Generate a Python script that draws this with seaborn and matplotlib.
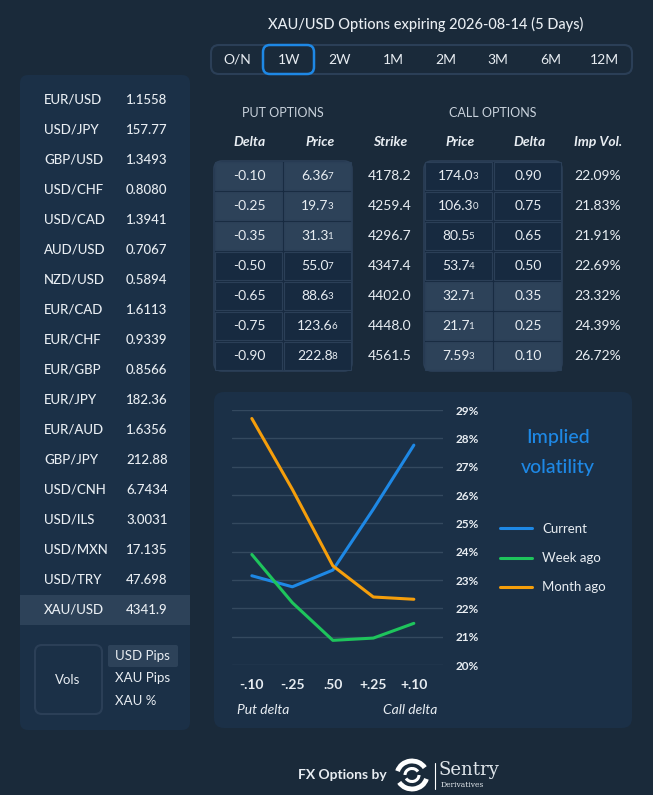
import matplotlib.pyplot as plt
import seaborn as sns
import pandas as pd
from matplotlib.patches import FancyBboxPatch, Rectangle, Arc

# spot rates in left panel
pairs = ["EUR/USD", "USD/JPY", "GBP/USD", "USD/CHF", "USD/CAD", "AUD/USD", "NZD/USD",
         "EUR/CAD", "EUR/CHF", "EUR/GBP", "EUR/JPY", "EUR/AUD", "GBP/JPY", "USD/CNH",
         "USD/ILS", "USD/MXN", "USD/TRY", "XAU/USD"]
spots = ["1.1558", "157.77", "1.3493", "0.8080", "1.3941", "0.7067", "0.5894",
         "1.6113", "0.9339", "0.8566", "182.36", "1.6356", "212.88", "6.7434",
         "3.0031", "17.135", "47.698", "4341.9"]
units = ["USD Pips", "XAU Pips", "XAU %"]
tenors = ["O/N", "1W", "2W", "1M", "2M", "3M", "6M", "12M"]

# options table
put_delta = ["-0.10", "-0.25", "-0.35", "-0.50", "-0.65", "-0.75", "-0.90"]
put_price = ["6.367", "19.73", "31.31", "55.07", "88.63", "123.66", "222.88"]
strikes = ["4178.2", "4259.4", "4296.7", "4347.4", "4402.0", "4448.0", "4561.5"]
call_price = ["174.03", "106.30", "80.55", "53.74", "32.71", "21.71", "7.593"]
call_delta = ["0.90", "0.75", "0.65", "0.50", "0.35", "0.25", "0.10"]
imp_vol = ["22.09%", "21.83%", "21.91%", "22.69%", "23.32%", "24.39%", "26.72%"]

# smile chart
delta_labels = ["-.10", "-.25", ".50", "+.25", "+.10"]
vol_current = [23.15, 22.76, 23.35, 25.5, 27.76]
vol_week = [23.9, 22.2, 20.87, 20.95, 21.47]
vol_month = [28.7, 26.2, 23.5, 22.4, 22.32]

BG = "#1a2a3a"
PANEL = "#1b3047"
HILITE = "#2d4259"
DARK = "#172a40"
EDGE = "#2b3f57"
TXT = "#e8edf2"
BLUE = "#1e88e5"
GREEN = "#1ec45c"
ORANGE = "#f59e0b"

sns.set_style("dark")
plt.rcParams["font.family"] = ["Lato", "DejaVu Sans"]

fig = plt.figure(figsize=(6.53, 7.95), dpi=100, facecolor=BG)
bg = fig.add_axes([0, 0, 1, 1])
bg.set_xlim(0, 653)
bg.set_ylim(795, 0)
bg.axis("off")


def box(x0, y0, x1, y1, fc, ec="none", r=8, lw=1.0):
    p = FancyBboxPatch((x0, y0), x1 - x0, y1 - y0,
                       boxstyle=f"round,pad=0,rounding_size={r}",
                       fc=fc, ec=ec, lw=lw)
    bg.add_patch(p)


def txt(x, y, s, size=10, ha="center", color=TXT, **kw):
    return bg.text(x, y, s, fontsize=size, ha=ha, va="center", color=color, **kw)


# left panel with spot rates
box(20, 75, 190, 730, PANEL)
for i, (p, v) in enumerate(zip(pairs, spots)):
    y = 100 + i * 30
    if p == "XAU/USD":
        bg.add_patch(Rectangle((20, y - 15), 170, 30, fc=HILITE, ec="none"))
    txt(44, y, p, size=9.5, ha="left", fontweight="medium")
    txt(126, y, v, size=9.5, ha="left", fontweight="medium")

box(35, 645, 102, 714, "none", ec=EDGE, r=7, lw=1.5)
txt(68, 680, "Vols", size=9.5)
box(108, 645, 178, 667, HILITE, r=2)
for i, u in enumerate(units):
    txt(115, 656 + i * 22.5, u, size=9.5, ha="left")

# title and tenor bar
txt(426, 24, "XAU/USD Options expiring 2026-08-14 (5 Days)", size=10.5, fontweight="medium")
box(211, 45, 632, 74, "none", ec=EDGE, r=8, lw=1.5)
tab_x = [237, 289, 340, 393, 446, 498, 551, 604]
for x, t in zip(tab_x, tenors):
    if t == "1W":
        box(263, 45, 314, 74, "none", ec=BLUE, r=7, lw=1.8)
    txt(x, 60, t, size=10)

# options table
txt(283, 113, "PUT OPTIONS", size=9, color="#c9d2dc")
txt(493, 113, "CALL OPTIONS", size=9, color="#c9d2dc")
heads = ["Delta", "Price", "Strike", "Price", "Delta", "Imp Vol."]
head_x = [250, 320, 390, 460, 530, 598]
for x, h in zip(head_x, heads):
    txt(x, 142, h, size=10, fontweight="bold", fontstyle="italic")


def cell_text(xc, y, s, sub):
    if sub:
        main = txt(xc - 3, y, s[:-1], size=10)
        bg.annotate(s[-1], xy=(1, 0.12), xycoords=main, xytext=(-0.8, 0),
                    textcoords="offset points", fontsize=7,
                    color=TXT, ha="left", va="bottom")
    else:
        txt(xc, y, s, size=10)


def block(x0, cols, hi_rows):
    box(x0, 161, x0 + 138, 371, DARK, ec=EDGE, r=8, lw=1.2)
    for r in range(7):
        y = 161 + r * 30
        fc = HILITE if r in hi_rows else DARK
        for c, (vals, sub) in enumerate(cols):
            cx = x0 + c * 69
            bg.add_patch(Rectangle((cx + 1, y + 1), 67, 28, fc=fc, ec=EDGE, lw=0.8))
            cell_text(cx + 35, y + 15, vals[r], sub)


block(214, [(put_delta, False), (put_price, True)], [0, 1, 2])
block(424, [(call_price, True), (call_delta, False)], [4, 5, 6])
for r in range(7):
    txt(390, 176 + r * 30, strikes[r], size=10)
    txt(598, 176 + r * 30, imp_vol[r], size=10)

# chart panel
box(214, 392, 632, 728, PANEL, r=10)
txt(558, 438, "Implied", size=14, color=BLUE, fontweight="medium")
txt(558, 467, "volatility", size=14, color=BLUE, fontweight="medium")
txt(237, 710, "Put delta", size=10, ha="left", fontstyle="italic")
txt(383, 710, "Call delta", size=10, ha="left", fontstyle="italic")

df = pd.DataFrame({
    "pos": list(range(5)) * 3,
    "vol": vol_current + vol_week + vol_month,
    "series": ["Current"] * 5 + ["Week ago"] * 5 + ["Month ago"] * 5,
})

ax = fig.add_axes([232 / 653, 1 - 665 / 795, 211 / 653, 255 / 795])
ax.set_facecolor("none")
sns.lineplot(data=df, x="pos", y="vol", hue="series", ax=ax, lw=2.2,
             palette=[BLUE, GREEN, ORANGE], clip_on=False)
ax.set_xlim(-0.49, 4.72)
ax.set_ylim(20, 29)
ax.set_xticks(range(5))
ax.set_xticklabels(delta_labels)
ax.set_yticks(range(20, 30))
ax.set_yticklabels([f"{v}%" for v in range(20, 30)])
ax.yaxis.tick_right()
ax.tick_params(axis="x", length=0, pad=10, labelsize=10, labelcolor=TXT)
ax.tick_params(axis="y", length=0, pad=9, labelsize=8.5, labelcolor=TXT)
for lab in ax.get_xticklabels():
    lab.set_fontweight("bold")
for lab in ax.get_yticklabels():
    lab.set_fontweight("bold")
ax.grid(axis="y", color="#34495f", lw=1)
ax.grid(axis="x", visible=False)
ax.set_xlabel("")
ax.set_ylabel("")
for s in ax.spines.values():
    s.set_visible(False)

leg = ax.legend(loc="upper left", bbox_to_anchor=(500 / 653, 1 - 523 / 795),
                bbox_transform=fig.transFigure, frameon=False, borderpad=0,
                borderaxespad=0, handlelength=2.4, handletextpad=0.8,
                labelspacing=1.3, fontsize=9.5)
for t in leg.get_texts():
    t.set_color(TXT)

# footer
txt(342, 775, "FX Options by", size=10, fontweight="bold", ha="center")
bg.add_patch(Arc((412, 775), 30, 28, theta1=195, theta2=330, color="white", lw=3.5))
bg.add_patch(Arc((412, 775), 30, 28, theta1=15, theta2=150, color="white", lw=3.5))
bg.add_patch(Arc((412, 775), 14, 13, theta1=180, theta2=330, color="white", lw=2.2))
bg.add_patch(Arc((412, 775), 14, 13, theta1=0, theta2=150, color="white", lw=2.2))
bg.plot([435, 435], [763, 789], color="white", lw=0.8)
txt(439, 770, "Sentry", size=13, ha="left", family="DejaVu Serif", color="#dfe5ea")
txt(441, 785, "Derivatives", size=5.5, ha="left", family="DejaVu Serif", color="#dfe5ea")

fig.savefig("out.png", dpi=100, facecolor=BG)
